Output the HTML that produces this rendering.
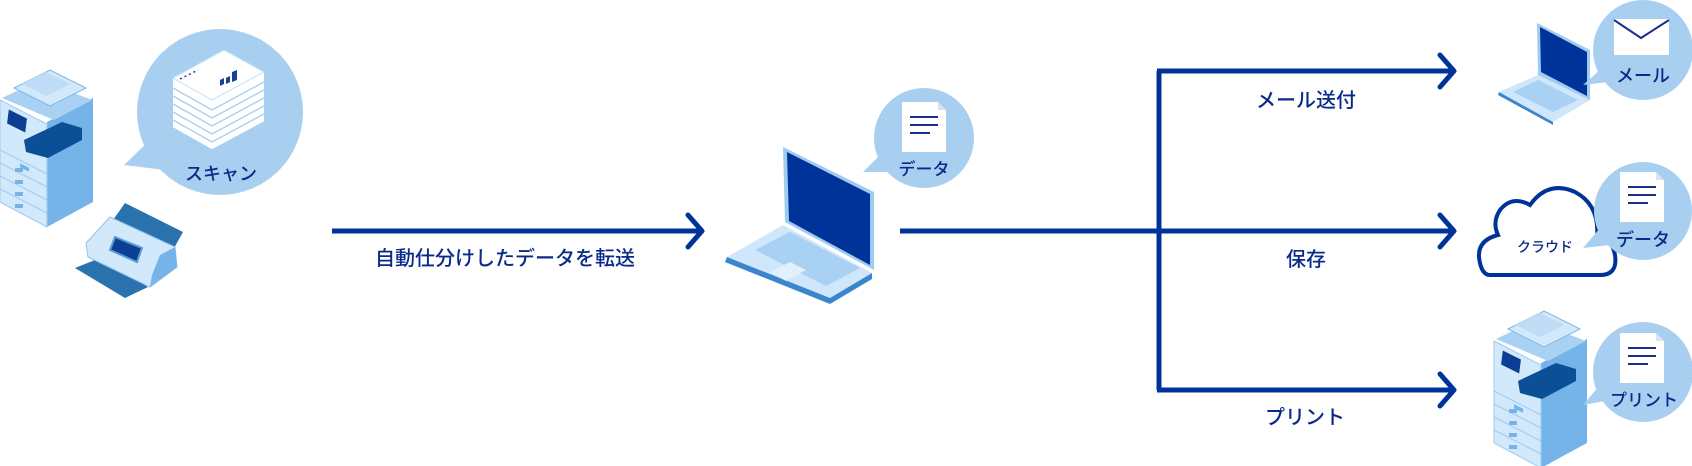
<!DOCTYPE html>
<html><head><meta charset="utf-8"><style>
html,body{margin:0;padding:0;background:#fff;}
svg{display:block;}
text{font-family:"Liberation Sans","Noto Sans CJK JP",sans-serif;fill:#0a2a8a;font-weight:500;}
</style></head><body>
<svg width="1692" height="466" viewBox="0 0 1692 466" xmlns="http://www.w3.org/2000/svg">
<defs>
<g id="copier">
  <polygon points="47,122 93,98 93,202 47,227" fill="#74b4e8"/>
  <polygon points="0,100 47,124 47,227 0,202" fill="#d2e8fb" stroke="#9ecbf0" stroke-width="1"/>
  <line x1="0" y1="150" x2="47" y2="174" stroke="#9ecbf0"/>
  <line x1="0" y1="163" x2="47" y2="187" stroke="#9ecbf0"/>
  <line x1="0" y1="176" x2="47" y2="200" stroke="#9ecbf0"/>
  <line x1="0" y1="189" x2="47" y2="213" stroke="#9ecbf0"/>
  <rect x="20" y="165" width="9" height="4" fill="#74b4e8" transform="skewY(27) translate(0,-12)"/>
  <polygon points="24,140 62,122 82,128 82,140 48,158 26,152" fill="#0b4f96"/>
  <polygon points="2,98 40,80 92,100 54,120" fill="#a9d1f3"/>
  <polygon points="14,88 50,70 86,88 50,106" fill="#d2e8fb" stroke="#7ab8e8"/>
  <polygon points="22,84 46,72 70,84 46,96" fill="#bfdcf7"/>
  <polygon points="8,108 28,118 26,134 6,124" fill="#0b3f94" stroke="#d2e8fb" stroke-width="2"/>
  <rect x="15" y="168" width="8" height="4" fill="#74b4e8"/>
  <rect x="15" y="180" width="8" height="4" fill="#74b4e8"/>
  <rect x="15" y="192" width="8" height="4" fill="#74b4e8"/>
  <rect x="15" y="204" width="8" height="4" fill="#74b4e8"/>
</g>
<g id="doc">
  <polygon points="0,0 36,0 44,8 44,50 0,50" fill="#fff"/>
  <polygon points="36,0 44,8 36,8" fill="#d8e4f0"/>
  <line x1="8" y1="15" x2="36" y2="15" stroke="#1a2f8a" stroke-width="2"/>
  <line x1="8" y1="23" x2="36" y2="23" stroke="#1a2f8a" stroke-width="2"/>
  <line x1="8" y1="31" x2="28" y2="31" stroke="#1a2f8a" stroke-width="2"/>
</g>
</defs>

<use href="#copier" x="0" y="0"/>
<polygon points="125,203 183,232 173,250 113,220" fill="#2a72ae"/>
<polygon points="75,268 100,258 148,287 125,298" fill="#2a72ae"/>
<polygon points="110,217 175,247 177,267 150,287 88,257 86,243" fill="#d2e8fb" stroke="#8cc2ee"/>
<polygon points="150,287 177,267 175,247 160,255 152,275" fill="#74b4e8"/>
<polygon points="115,237 142,248 137,262 110,250" fill="#0b3f94" stroke="#5b9bd5" stroke-width="2"/>

<polygon points="124,165 150,140 165,170" fill="#a9cff0"/>
<ellipse cx="220" cy="112" rx="83" ry="83" fill="#a9cff0"/>
<g>
  <polygon points="173,78 224,50 264,72 264,122 212,150 173,128" fill="#fff"/>
  <g stroke="#a9cff0" stroke-width="1.3" fill="none">
   <polyline points="173,88 212,110 264,82"/>
   <polyline points="173,96 212,118 264,90"/>
   <polyline points="173,104 212,126 264,98"/>
   <polyline points="173,112 212,134 264,106"/>
   <polyline points="173,120 212,142 264,114"/>
   <polyline points="173,128 212,150 264,122"/>
  </g>
  <polygon points="173,78 224,50 264,72 212,100" fill="#fff" stroke="#c6e0f6"/>
  <line x1="180" y1="79" x2="198" y2="70" stroke="#1a3f9a" stroke-width="1.5" stroke-dasharray="2 3"/>
  <polygon points="220,80 224,78 224,84 220,86" fill="#1a3f9a"/>
  <polygon points="226,78 230,76 230,82 226,84" fill="#1a3f9a"/>
  <polygon points="232,72 237,70 237,80 232,82" fill="#1a3f9a"/>
</g>
<text x="221" y="180" font-size="18" text-anchor="middle">スキャン</text>

<line x1="332" y1="231" x2="700" y2="231" stroke="#003399" stroke-width="5"/>
<polyline points="688,215 702,231 688,247" fill="none" stroke="#003399" stroke-width="5" stroke-linecap="round" stroke-linejoin="round"/>
<text x="505" y="265" font-size="20" text-anchor="middle">自動仕分けしたデータを転送</text>

<polygon points="727,257 783,225 872,273 830,298" fill="#cfe6fb"/>
<polygon points="727,257 830,298 830,304 725,262" fill="#3a86cc"/>
<polygon points="830,298 872,273 872,279 830,304" fill="#3a86cc"/>
<polygon points="755,250 790,232 860,268 826,286" fill="#a9d1f3"/>
<polygon points="770,272 790,262 806,270 786,281" fill="#e1f0fd"/>
<polygon points="783,147 874,192 874,270 785,222" fill="#9ecbf0"/>
<polygon points="787,152 870,194 870,265 789,221" fill="#003399"/>

<polygon points="863,172 885,150 895,172" fill="#a9cff0"/>
<circle cx="924" cy="138" r="50" fill="#a9cff0"/>
<use href="#doc" x="902" y="102"/>
<text x="924" y="175" font-size="17" text-anchor="middle">データ</text>

<line x1="900" y1="231" x2="1159" y2="231" stroke="#003399" stroke-width="5"/>
<polyline points="1159,71 1159,390" fill="none" stroke="#003399" stroke-width="5"/>
<line x1="1157" y1="71" x2="1452" y2="71" stroke="#003399" stroke-width="5"/>
<line x1="1159" y1="231" x2="1452" y2="231" stroke="#003399" stroke-width="5"/>
<line x1="1157" y1="390" x2="1452" y2="390" stroke="#003399" stroke-width="5"/>
<polyline points="1440,55 1454,71 1440,87" fill="none" stroke="#003399" stroke-width="5" stroke-linecap="round" stroke-linejoin="round"/>
<polyline points="1440,215 1454,231 1440,247" fill="none" stroke="#003399" stroke-width="5" stroke-linecap="round" stroke-linejoin="round"/>
<polyline points="1440,374 1454,390 1440,406" fill="none" stroke="#003399" stroke-width="5" stroke-linecap="round" stroke-linejoin="round"/>
<text x="1306" y="107" font-size="20" text-anchor="middle">メール送付</text>
<text x="1306" y="266" font-size="20" text-anchor="middle">保存</text>
<text x="1305" y="424" font-size="20" text-anchor="middle">プリント</text>

<polygon points="1499,92 1538,75 1590,100 1553,122" fill="#cfe6fb"/>
<polygon points="1499,92 1553,122 1553,125 1498,95" fill="#3a86cc"/>
<polygon points="1513,92 1538,80 1578,100 1553,112" fill="#a9d1f3"/>
<polygon points="1537,23 1590,50 1590,100 1538,75" fill="#9ecbf0"/>
<polygon points="1540,27 1587,52 1587,96 1541,72" fill="#003399"/>
<polygon points="1583,85 1600,70 1608,82" fill="#a9cff0"/>
<circle cx="1643" cy="50" r="50" fill="#a9cff0"/>
<rect x="1614" y="19" width="55" height="36" fill="#fff"/>
<polyline points="1614,20 1641,38 1669,20" fill="none" stroke="#1a2f8a" stroke-width="2"/>
<text x="1643" y="82" font-size="18" text-anchor="middle">メール</text>

<path d="M1490,275 L1600,275 Q1618,275 1615,255 Q1612,238 1597,238 Q1600,205 1575,192 Q1548,180 1530,205 Q1512,195 1500,210 Q1492,222 1498,235 Q1478,240 1479,257 Q1481,275 1490,275 Z" fill="#fff" stroke="#003399" stroke-width="4"/>
<text x="1545" y="252" font-size="14" text-anchor="middle">クラウド</text>
<polygon points="1583,248 1600,228 1610,245" fill="#a9cff0"/>
<circle cx="1643" cy="211" r="49" fill="#a9cff0"/>
<use href="#doc" x="1620" y="172"/>
<text x="1643" y="246" font-size="18" text-anchor="middle">データ</text>

<use href="#copier" x="1494" y="241"/>
<polygon points="1583,405 1600,385 1610,400" fill="#a9cff0"/>
<circle cx="1643" cy="372" r="50" fill="#a9cff0"/>
<use href="#doc" x="1620" y="333"/>
<text x="1644" y="406" font-size="17" text-anchor="middle">プリント</text>
</svg>
</body></html>
